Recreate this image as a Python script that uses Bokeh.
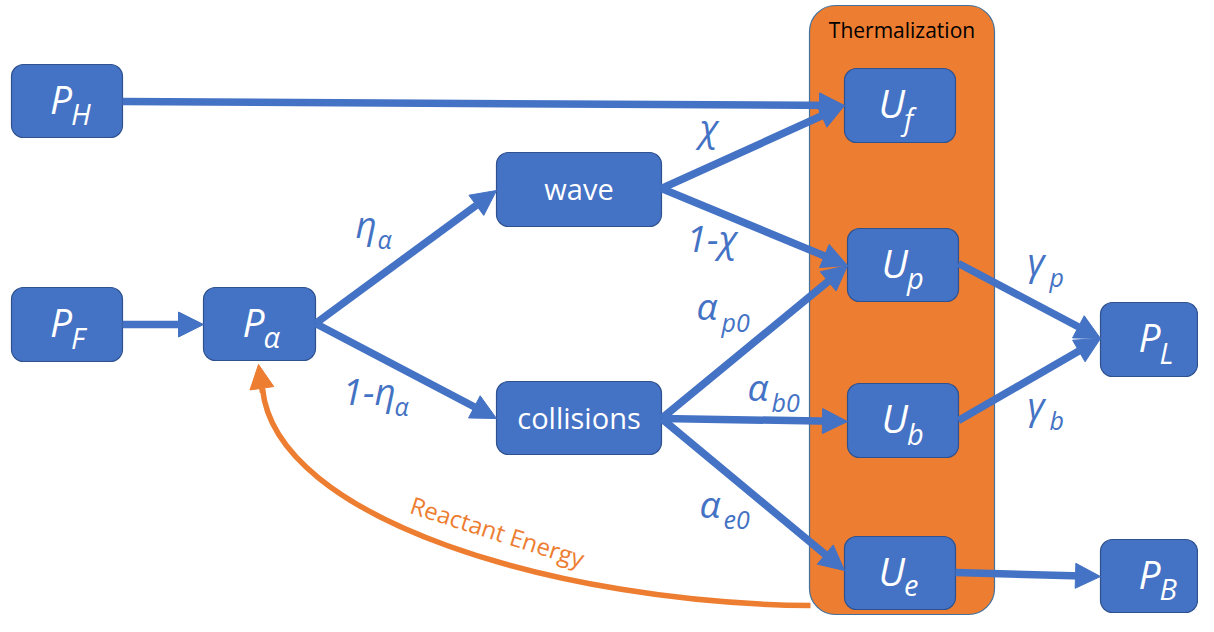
from bokeh.plotting import figure
from bokeh.models import Range1d, ColumnDataSource, Arrow, NormalHead
from bokeh.core.properties import value
from bokeh.embed import file_html
from bokeh.resources import INLINE

BLUE = "#4472C4"
BLUE_EDGE = "#2F528F"
ORANGE = "#ED7D31"
FONT = value("Open Sans")

# ---- nodes (boxes) ----
node_main = ["P", "P", "P", "", "", "U", "U", "U", "U", "P", "P"]
node_sub = ["H", "F", "α", "", "", "f", "p", "b", "e", "L", "B"]
node_plain = ["", "", "", "wave", "collisions", "", "", "", "", "", ""]
node_left = [11, 11, 203, 496, 496, 844, 847, 847, 844, 1100, 1100]
node_right = [122, 122, 315, 661, 661, 955, 958, 958, 955, 1197, 1197]
node_top = [64, 287, 287, 152, 381, 68, 228, 383, 536, 302, 539]
node_bottom = [137, 361, 360, 226, 454, 142, 301, 457, 609, 376, 612]

# ---- group box ----
group_label = "Thermalization"
group_box = dict(left=809, right=994, top=5, bottom=614)

# ---- arrows ----
arrow_x0 = [122, 122, 315, 315, 661, 661, 661, 661, 661, 958, 958, 955]
arrow_y0 = [101, 324, 323, 323, 188, 188, 418, 418, 418, 263, 420, 572]
arrow_x1 = [844, 203, 496, 496, 844, 847, 847, 847, 844, 1100, 1100, 1100]
arrow_y1 = [105, 324, 190, 418, 105, 265, 265, 421, 570, 338, 338, 576]

# ---- edge labels ----
elab_main = ["η", "1-η", "χ", "1-χ", "α", "α", "α", "γ", "γ"]
elab_sub = ["α", "α", "", "", "p0", "b0", "e0", "p", "b"]
elab_x = [355, 342, 699, 686, 696, 747, 699, 1027, 1027]
elab_y = [240, 407, 143, 254, 322, 403, 520, 277, 421]
elab_sub_x = [377, 394, 0, 0, 721, 771, 723, 1049, 1049]
elab_sub_y = [250, 417, 0, 0, 333, 413, 531, 288, 431]

# ---- feedback curve ----
feedback_label = "Reactant Energy"
curve = dict(x0=810, y0=605, cx0=560, cy0=603, cx1=275, cy1=520, x1=262, y1=388)

# svg text baseline correction (empirical, fraction of font size)
BL = 0.45


def base(y, size):
    return y - BL * size


p = figure(width=1198, height=616, x_range=Range1d(0, 1198), y_range=Range1d(616, 0),
           x_axis_type=None, y_axis_type=None, toolbar_location=None,
           output_backend="svg", min_border=0, outline_line_color=None)
p.grid.visible = False
p.background_fill_color = "white"

# group box
p.quad(left=[group_box["left"]], right=[group_box["right"]], top=[group_box["bottom"]],
       bottom=[group_box["top"]], fill_color=ORANGE, line_color="#41719C", line_width=1.2,
       border_radius=26)
p.text(x=[(group_box["left"] + group_box["right"]) / 2], y=[base(39, 21)], text=[group_label],
       text_font=FONT, text_font_size="21px", text_color="black",
       text_align="center", text_baseline="alphabetic")

# feedback curve
p.bezier(x0=[curve["x0"]], y0=[curve["y0"]], x1=[curve["x1"]], y1=[curve["y1"]],
         cx0=[curve["cx0"]], cy0=[curve["cy0"]], cx1=[curve["cx1"]], cy1=[curve["cy1"]],
         line_color=ORANGE, line_width=5.5)
p.add_layout(Arrow(end=NormalHead(size=24, fill_color=ORANGE, line_color=ORANGE),
                   x_start=262, y_start=392, x_end=258, y_end=364,
                   line_color=ORANGE, line_width=5.5))
p.text(x=[494 + 3], y=[541 - 0.45 * 24 * 0.95], text=[feedback_label], angle=-0.31,
       text_font=FONT, text_font_size="24px", text_color=ORANGE, text_align="center",
       text_baseline="alphabetic")

# arrows
asrc = ColumnDataSource(dict(x0=arrow_x0, y0=arrow_y0, x1=arrow_x1, y1=arrow_y1))
p.add_layout(Arrow(end=NormalHead(size=25, fill_color=BLUE, line_color=BLUE, line_width=1),
                   source=asrc, x_start="x0", y_start="y0", x_end="x1", y_end="y1",
                   line_color=BLUE, line_width=7.5))

# nodes
p.quad(left=node_left, right=node_right, top=node_bottom, bottom=node_top,
       fill_color=BLUE, line_color=BLUE_EDGE, line_width=1.2, border_radius=12)

cx = [(l + r) / 2 for l, r in zip(node_left, node_right)]
cy = [(t + b) / 2 for t, b in zip(node_top, node_bottom)]
cx[9] = cx[10] = 1155
mi = [i for i, m in enumerate(node_main) if m]
p.text(x=[cx[i] + 5 for i in mi], y=[base(cy[i] + 15, 39) for i in mi],
       text=[node_main[i] for i in mi],
       text_font=FONT, text_font_size="39px", text_font_style="italic", text_color="white",
       text_align="right", text_baseline="alphabetic")
p.text(x=[cx[i] + 4 for i in mi], y=[base(cy[i] + 26, 29) for i in mi],
       text=[node_sub[i] for i in mi],
       text_font=FONT, text_font_size="29px", text_font_style="italic", text_color="white",
       text_align="left", text_baseline="alphabetic")
pi_ = [i for i, m in enumerate(node_plain) if m]
p.text(x=[cx[i] for i in pi_], y=[cy[i] - 1 for i in pi_], text=[node_plain[i] for i in pi_],
       text_font=FONT, text_font_size="29px", text_color="white",
       text_align="center", text_baseline="middle")

# edge labels
p.text(x=elab_x, y=[base(v, 37) for v in elab_y], text=elab_main, text_font=FONT,
       text_font_size="37px", text_font_style="italic", text_color=BLUE,
       text_align="left", text_baseline="alphabetic")
si = [i for i, s in enumerate(elab_sub) if s]
p.text(x=[elab_sub_x[i] for i in si], y=[base(elab_sub_y[i], 25) for i in si],
       text=[elab_sub[i] for i in si],
       text_font=FONT, text_font_size="25px", text_font_style="italic", text_color=BLUE,
       text_align="left", text_baseline="alphabetic")

open("out.html", "w").write(file_html(p, INLINE))
